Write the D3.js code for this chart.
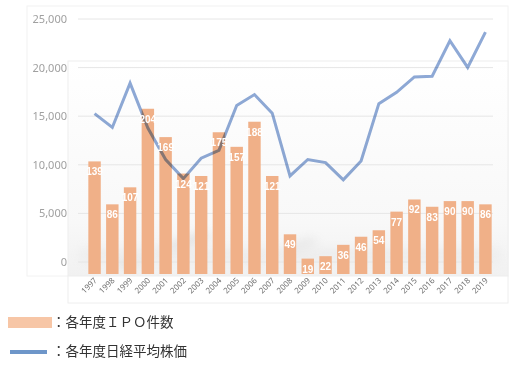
<!DOCTYPE html>
<html><head><meta charset="utf-8">
<script src="https://cdn.jsdelivr.net/npm/d3@7/dist/d3.min.js"></script>
<style>body{margin:0;background:#fff}svg{display:block}</style>
</head><body>
<svg id="c" width="521" height="366"></svg>
<script>
const years = ["1997","1998","1999","2000","2001","2002","2003","2004","2005","2006","2007","2008","2009","2010","2011","2012","2013","2014","2015","2016","2017","2018","2019"];
const ipoCounts = [139,86,107,204,169,124,121,175,157,188,121,49,19,22,36,46,54,77,92,83,90,90,86];
const nikkei = [15259,13842,18400,13786,10543,8579,10677,11489,16111,17226,15308,8860,10546,10229,8455,10395,16291,17451,19034,19114,22765,20015,23657];
const yTicks = [0,5000,10000,15000,20000,25000];
const legendLabels = ["：各年度ＩＰＯ件数","：各年度日経平均株価"];

const svg = d3.select("#c");
const defs = svg.append("defs");
const g1 = defs.append("linearGradient").attr("id","bg").attr("x1",0).attr("y1",0).attr("x2",0).attr("y2",1);
g1.append("stop").attr("offset","0%").attr("stop-color","#ffffff");
g1.append("stop").attr("offset","75%").attr("stop-color","#f8f8f8");
g1.append("stop").attr("offset","100%").attr("stop-color","#f1f1f1");
defs.append("filter").attr("id","blur").attr("x","-50%").attr("y","-50%").attr("width","200%").attr("height","200%")
  .append("feGaussianBlur").attr("stdDeviation",5);

// frames
svg.append("rect").attr("x",27).attr("y",6).attr("width",481).attr("height",270).attr("fill","#fff").attr("stroke","#f2f2f2");
svg.append("rect").attr("x",68).attr("y",61).attr("width",440).attr("height",215).attr("fill","url(#bg)").attr("stroke","#eeeeee");
svg.append("rect").attr("x",68).attr("y",276).attr("width",440).attr("height",27).attr("fill","#fff").attr("stroke","#eeeeee");

const x = d3.scaleBand().domain(years).range([83,497]).padding(0.3);
const y = d3.scaleLinear().domain([0,25000]).range([262,19]);
const yb = d3.scaleLinear().domain([0,250]).range([274,71.5]);

// soft diagonal shadows
const sh = svg.append("g").attr("filter","url(#blur)").attr("opacity",0.35);
sh.append("path").attr("d","M110,265 L200,232 L215,236 L130,268 Z").attr("fill","#bdbdbd");
sh.append("path").attr("d","M240,262 L310,238 L320,241 L255,265 Z").attr("fill","#c8c8c8");
sh.append("rect").attr("x",80).attr("y",248).attr("width",420).attr("height",14).attr("fill","#e2e2e2");

// gridlines
svg.append("g").selectAll("line").data(yTicks).join("line")
  .attr("x1",78).attr("x2",493).attr("y1",d=>y(d)).attr("y2",d=>y(d))
  .attr("stroke","#e6e6e6").attr("stroke-width",1);

// y labels
svg.append("g").selectAll("text").data(yTicks).join("text")
  .attr("x",67).attr("y",d=>y(d)+4).attr("text-anchor","end")
  .attr("font-family","Noto Sans, sans-serif").attr("font-size",11).attr("fill","#a0a0a0")
  .text(d=>d3.format(",")(d));

// bars
svg.append("g").selectAll("rect").data(years).join("rect")
  .attr("x",d=>x(d)).attr("width",x.bandwidth())
  .attr("y",(d,i)=>yb(ipoCounts[i])).attr("height",(d,i)=>yb(0)-yb(ipoCounts[i]))
  .attr("fill","#F0B088");

// line
const line = d3.line().x((d,i)=>x(years[i])+x.bandwidth()/2).y(d=>y(d));
svg.append("path").datum(nikkei).attr("d",line).attr("fill","none")
  .attr("stroke","#8EA9D6").attr("stroke-width",3).attr("stroke-linejoin","miter")
  .style("mix-blend-mode","multiply");

// bar labels
svg.append("g").selectAll("text").data(years).join("text")
  .attr("x",d=>x(d)+x.bandwidth()/2).attr("y",(d,i)=>yb(ipoCounts[i])+14)
  .attr("text-anchor","middle").attr("font-family","Liberation Sans, Arial, sans-serif").attr("font-weight","bold")
  .attr("font-size",10).attr("fill","#fff")
  .text((d,i)=>ipoCounts[i]);

// x labels
svg.append("g").selectAll("text").data(years).join("text")
  .attr("transform",d=>`translate(${x(d)+x.bandwidth()/2+3},281) rotate(-45)`)
  .attr("text-anchor","end").attr("font-family","Noto Sans, sans-serif")
  .attr("font-size",8).attr("fill","#707070").text(d=>d);

// legend
svg.append("rect").attr("x",8).attr("y",317).attr("width",44).attr("height",11).attr("fill","#F7C6A6");
svg.append("line").attr("x1",10).attr("x2",47).attr("y1",352).attr("y2",352).attr("stroke","#6E96C9").attr("stroke-width",4);
svg.append("g").selectAll("text").data(legendLabels).join("text")
  .attr("x",52).attr("y",(d,i)=>i===0?327:356)
  .attr("font-family","Noto Sans CJK JP, sans-serif").attr("font-size",13.5).attr("fill","#333")
  .text(d=>d);
</script>
</body></html>
